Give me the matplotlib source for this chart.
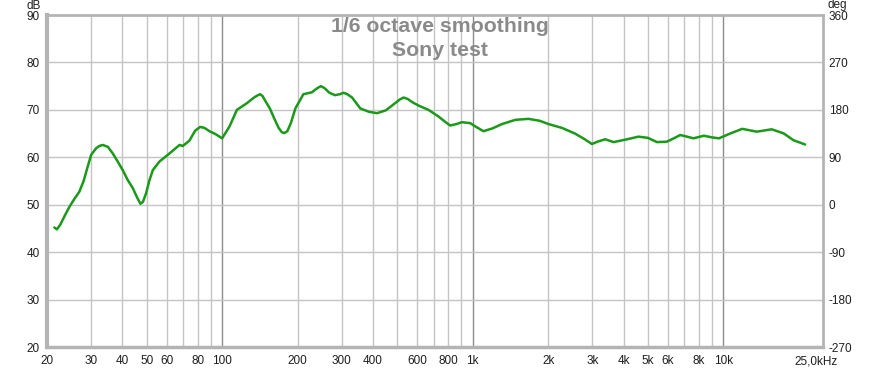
import matplotlib
matplotlib.use("Agg")
import matplotlib.pyplot as plt
import matplotlib.transforms as mtransforms
from matplotlib.ticker import FixedLocator, NullFormatter, NullLocator

plt.rcParams['font.family'] = ['Liberation Sans', 'DejaVu Sans']
plt.rcParams['axes.unicode_minus'] = False

# Frequency response (Hz, dB), 1/6 octave smoothing
freq_hz = [21.4, 21.9, 22.6, 23.6, 24.6, 25.7, 26.9, 28.0, 28.8, 30.0, 31.4,
           32.4, 33.4, 35.0, 36.6, 38.3, 40.1, 42.0, 44.0, 45.8, 47.2, 48.3,
           49.7, 51.3, 52.9, 56.2, 61.6, 67.6, 69.7, 74.0, 78.0, 81.7, 85.0,
           89.0, 94.0, 100.0, 107.0, 114.5, 125.5, 134.0, 139.0, 141.8, 145.0,
           149.0, 155.0, 162.0, 168.0, 173.0, 177.0, 182.0, 188.0, 196.0,
           211.0, 228.0, 240.0, 248.0, 256.0, 268.0, 282.0, 295.0, 305.0,
           316.0, 330.0, 356.0, 385.0, 415.0, 450.0, 490.0, 512.0, 530.0,
           550.0, 575.0, 608.0, 666.0, 730.0, 780.0, 813.0, 860.0, 905.0,
           977.0, 1040.0, 1104.0, 1200.0, 1308.0, 1480.0, 1670.0, 1850.0,
           2008.0, 2270.0, 2560.0, 2800.0, 2990.0, 3150.0, 3380.0, 3650.0,
           4130.0, 4590.0, 5000.0, 5440.0, 5960.0, 6400.0, 6730.0, 7100.0,
           7600.0, 8370.0, 9000.0, 9610.0, 10700.0, 11900.0, 13600.0,
           15600.0, 17400.0, 19060.0, 21200.0]
spl_db = [45.2, 44.8, 45.8, 47.8, 49.6, 51.2, 52.7, 55.0, 57.3, 60.5, 61.9,
          62.4, 62.6, 62.2, 60.8, 59.1, 57.3, 55.2, 53.5, 51.5, 50.2, 50.6,
          52.4, 55.2, 57.3, 59.1, 60.8, 62.6, 62.4, 63.5, 65.6, 66.4, 66.2,
          65.5, 64.9, 64.0, 66.5, 70.0, 71.4, 72.6, 73.1, 73.3, 72.9, 71.8,
          70.3, 68.0, 66.2, 65.3, 65.1, 65.5, 67.2, 70.3, 73.3, 73.7, 74.6,
          75.0, 74.6, 73.6, 73.1, 73.3, 73.6, 73.3, 72.6, 70.3, 69.6, 69.3,
          69.9, 71.4, 72.2, 72.6, 72.3, 71.6, 70.9, 70.0, 68.6, 67.4, 66.7,
          67.0, 67.4, 67.2, 66.3, 65.5, 66.1, 67.0, 67.9, 68.1, 67.7, 67.0,
          66.2, 65.0, 63.8, 62.8, 63.3, 63.8, 63.2, 63.8, 64.35, 64.1, 63.2,
          63.3, 64.1, 64.7, 64.4, 64.0, 64.55, 64.2, 64.0, 65.05, 66.0, 65.4,
          65.9, 65.05, 63.6, 62.7]

title_lines = ["1/6 octave smoothing", "Sony test"]
x_ticks = [20, 30, 40, 50, 60, 80, 100, 200, 300, 400, 600, 800, 1000, 2000,
           3000, 4000, 5000, 6000, 8000, 10000, 25000]
x_tick_labels = ["20", "30", "40", "50", "60", "80", "100", "200", "300", "400",
                 "600", "800", "1k", "2k", "3k", "4k", "5k", "6k", "8k", "10k",
                 "25,0kHz"]
y_ticks = [20, 30, 40, 50, 60, 70, 80, 90]
deg_ticks = [-270, -180, -90, 0, 90, 180, 270, 360]

minor_grid = [30, 40, 50, 60, 70, 80, 90, 200, 300, 400, 500, 600, 700, 800,
              900, 2000, 3000, 4000, 5000, 6000, 7000, 8000, 9000]
major_grid = [100, 1000, 10000]

W, H = 881, 368
fig = plt.figure(figsize=(W / 100, H / 100), dpi=100)
L, R, T, B = 47, 823, 15, 347
ax = fig.add_axes([L / W, 1 - B / H, (R - L) / W, (B - T) / H])
ax.set_xscale('log')
ax.set_xlim(20, 25000)
ax.set_ylim(20, 90)

for f in minor_grid:
    ax.axvline(f, color='#c4c4c4', lw=1.0, zorder=1)
for f in major_grid:
    ax.axvline(f, color='#8c8c8c', lw=1.0, zorder=1)
for y in y_ticks[1:-1]:
    ax.axhline(y, color='#c4c4c4', lw=1.0, zorder=1)

ax.plot(freq_hz, spl_db, color='#1a991a', lw=1.8, zorder=3,
        solid_joinstyle='round', solid_capstyle='round')

ax.xaxis.set_major_locator(FixedLocator(x_ticks))
ax.set_xticklabels(x_tick_labels)
ax.xaxis.set_minor_locator(NullLocator())
ax.xaxis.set_minor_formatter(NullFormatter())
ax.set_yticks(y_ticks)
ax.tick_params(axis='both', length=0, labelsize=8.5, colors='#1e1e1e')
ax.tick_params(axis='x', pad=6)
ax.tick_params(axis='y', pad=5)

# nudge the last x label left like the reference
last = ax.get_xticklabels()[-1]
last.set_transform(last.get_transform() +
                   mtransforms.ScaledTranslation(-7 / 100, 0, fig.dpi_scale_trans))

for side, sp in ax.spines.items():
    sp.set_color('#b4b4b4')
    sp.set_linewidth(2.0)
ax.spines['left'].set_linewidth(3.0)
ax.spines['bottom'].set_linewidth(2.5)

ax2 = ax.twinx()
ax2.set_ylim(-270, 360)
ax2.set_yticks(deg_ticks)
ax2.tick_params(axis='y', length=0, labelsize=8.5, colors='#1e1e1e', pad=4)
for sp in ax2.spines.values():
    sp.set_visible(False)

fig.text(41 / W, 1 - 6 / H, "dB", ha='right', va='center', fontsize=8.5,
         color='#1e1e1e')
fig.text(828 / W, 1 - 5 / H, "deg", ha='left', va='center', fontsize=8.5,
         color='#1e1e1e')

fig.text(440 / W, 1 - 27 / H, title_lines[0], ha='center', va='center',
         fontsize=15.3, fontweight='bold', color='#8a8a8a')
fig.text(440 / W, 1 - 50 / H, title_lines[1], ha='center', va='center',
         fontsize=15.3, fontweight='bold', color='#8a8a8a')

fig.savefig("out.png", dpi=100)
